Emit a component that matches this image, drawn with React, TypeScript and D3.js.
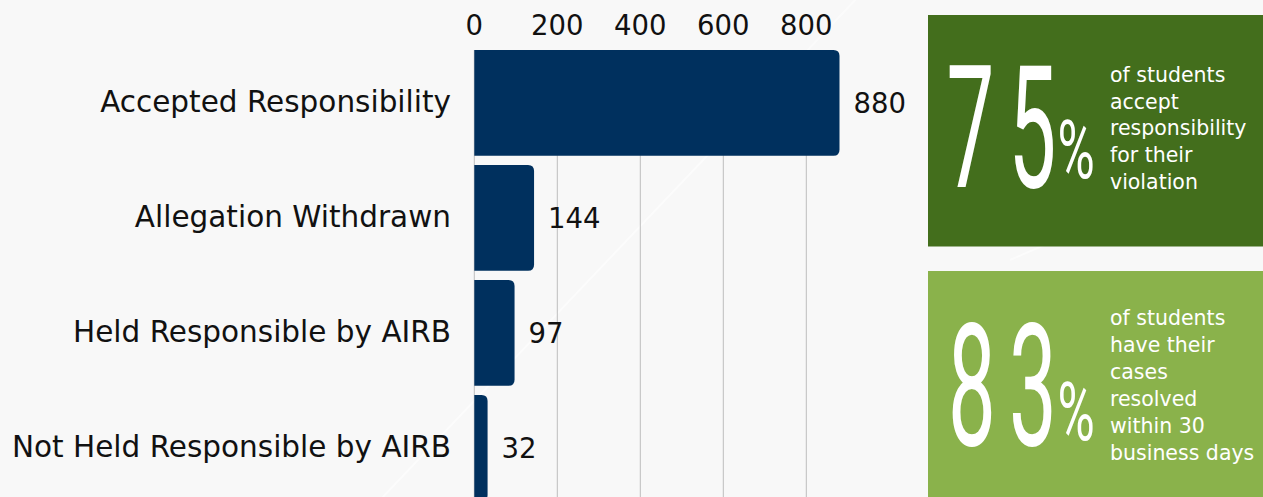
import React from "react";
import * as d3 from "d3";

const categories = [
  "Accepted Responsibility",
  "Allegation Withdrawn",
  "Held Responsible by AIRB",
  "Not Held Responsible by AIRB",
];
const values = [880, 144, 97, 32];
const ticks = [0, 200, 400, 600, 800];

const statPercents = ["75", "83"];
const statLinesA = ["of students", "accept", "responsibility", "for their", "violation"];
const statLinesB = ["of students", "have their", "cases", "resolved", "within 30", "business days"];

const W = 1263;
const H = 497;
const LABEL_FONT = "'DejaVu Sans', 'Open Sans', sans-serif";

function barPath(x0: number, x1: number, y0: number, h: number, r: number) {
  const rr = Math.min(r, (x1 - x0) / 2, h / 2);
  return `M${x0},${y0}H${x1 - rr}Q${x1},${y0} ${x1},${y0 + rr}V${y0 + h - rr}Q${x1},${y0 + h} ${x1 - rr},${y0 + h}H${x0}Z`;
}

function BigNumber({ digits, cx, base, pctBase }: { digits: string; cx: number[]; base: number; pctBase: number }) {
  const chars = digits.split("");
  return (
    <g fill="#ffffff" fontFamily="Roboto, 'DejaVu Sans', sans-serif" fontWeight={400}>
      {chars.map((c, i) => (
        <text key={i} transform={`translate(${cx[i]},${base}) scale(0.5,1)`} textAnchor="middle" fontSize={170}>
          {c}
        </text>
      ))}
      <text transform={`translate(${cx[2]},${pctBase}) scale(0.62,1)`} textAnchor="middle" fontSize={82}>
        %
      </text>
    </g>
  );
}

export default function App() {
  const x = d3.scaleLinear().domain([0, 800]).range([474.3, 806.3]);
  const y = d3
    .scaleBand<string>()
    .domain(categories)
    .range([45.4, 505.4])
    .paddingInner(0.08)
    .paddingOuter(0.04);
  const bw = y.bandwidth();
  const gridTop = y(categories[0]) as number;

  return (
    <svg
      width={W}
      height={H}
      style={{ position: "absolute", left: 0, top: 0, display: "block" }}
      xmlns="http://www.w3.org/2000/svg"
    >
      <rect x={0} y={0} width={W} height={H} fill="#f8f8f8" />
      {/* faint background streaks */}
      <g stroke="#ffffff" strokeWidth={2} opacity={0.55} fill="none">
        <line x1={380} y1={500} x2={860} y2={-5} />
        <line x1={1010} y1={260} x2={1263} y2={150} />
      </g>

      {/* gridlines */}
      <g stroke="#bdbdbd" strokeWidth={1}>
        {ticks.map((t) => (
          <line key={t} x1={x(t)} x2={x(t)} y1={gridTop} y2={H} />
        ))}
      </g>

      {/* tick labels */}
      <g fontFamily={LABEL_FONT} fontSize={27.5} fill="#111" textAnchor="middle">
        {ticks.map((t) => (
          <text key={t} x={x(t)} y={35}>
            {t}
          </text>
        ))}
      </g>

      {/* bars */}
      {categories.map((c, i) => {
        const y0 = y(c) as number;
        return (
          <g key={c}>
            <path d={barPath(x(0), x(values[i]), y0, bw, 6)} fill="#00305e" />
            <text
              x={x(values[i]) + 14}
              y={y0 + bw / 2 + 10}
              fontFamily={LABEL_FONT}
              fontSize={27.5}
              fill="#111"
            >
              {values[i]}
            </text>
            <text
              x={451}
              y={y0 + bw / 2 + 9.5}
              fontFamily={LABEL_FONT}
              fontSize={29.5}
              fill="#111"
              textAnchor="end"
            >
              {c}
            </text>
          </g>
        );
      })}

      {/* stat boxes */}
      <rect x={928} y={15} width={W - 928} height={231.5} fill="#436e1c" />
      <BigNumber digits={statPercents[0]} cx={[970.5, 1032.5, 1076]} base={187} pctBase={178} />
      <g fontFamily={LABEL_FONT} fontSize={20.5} fill="#ffffff">
        {statLinesA.map((l, i) => (
          <text key={i} x={1110} y={82 + i * 26.7}>
            {l}
          </text>
        ))}
      </g>

      <rect x={928} y={271} width={W - 928} height={H - 271} fill="#8ab24b" />
      <BigNumber digits={statPercents[1]} cx={[972, 1033, 1076]} base={445} pctBase={440} />
      <g fontFamily={LABEL_FONT} fontSize={20.5} fill="#ffffff">
        {statLinesB.map((l, i) => (
          <text key={i} x={1110} y={325 + i * 27}>
            {l}
          </text>
        ))}
      </g>
    </svg>
  );
}
